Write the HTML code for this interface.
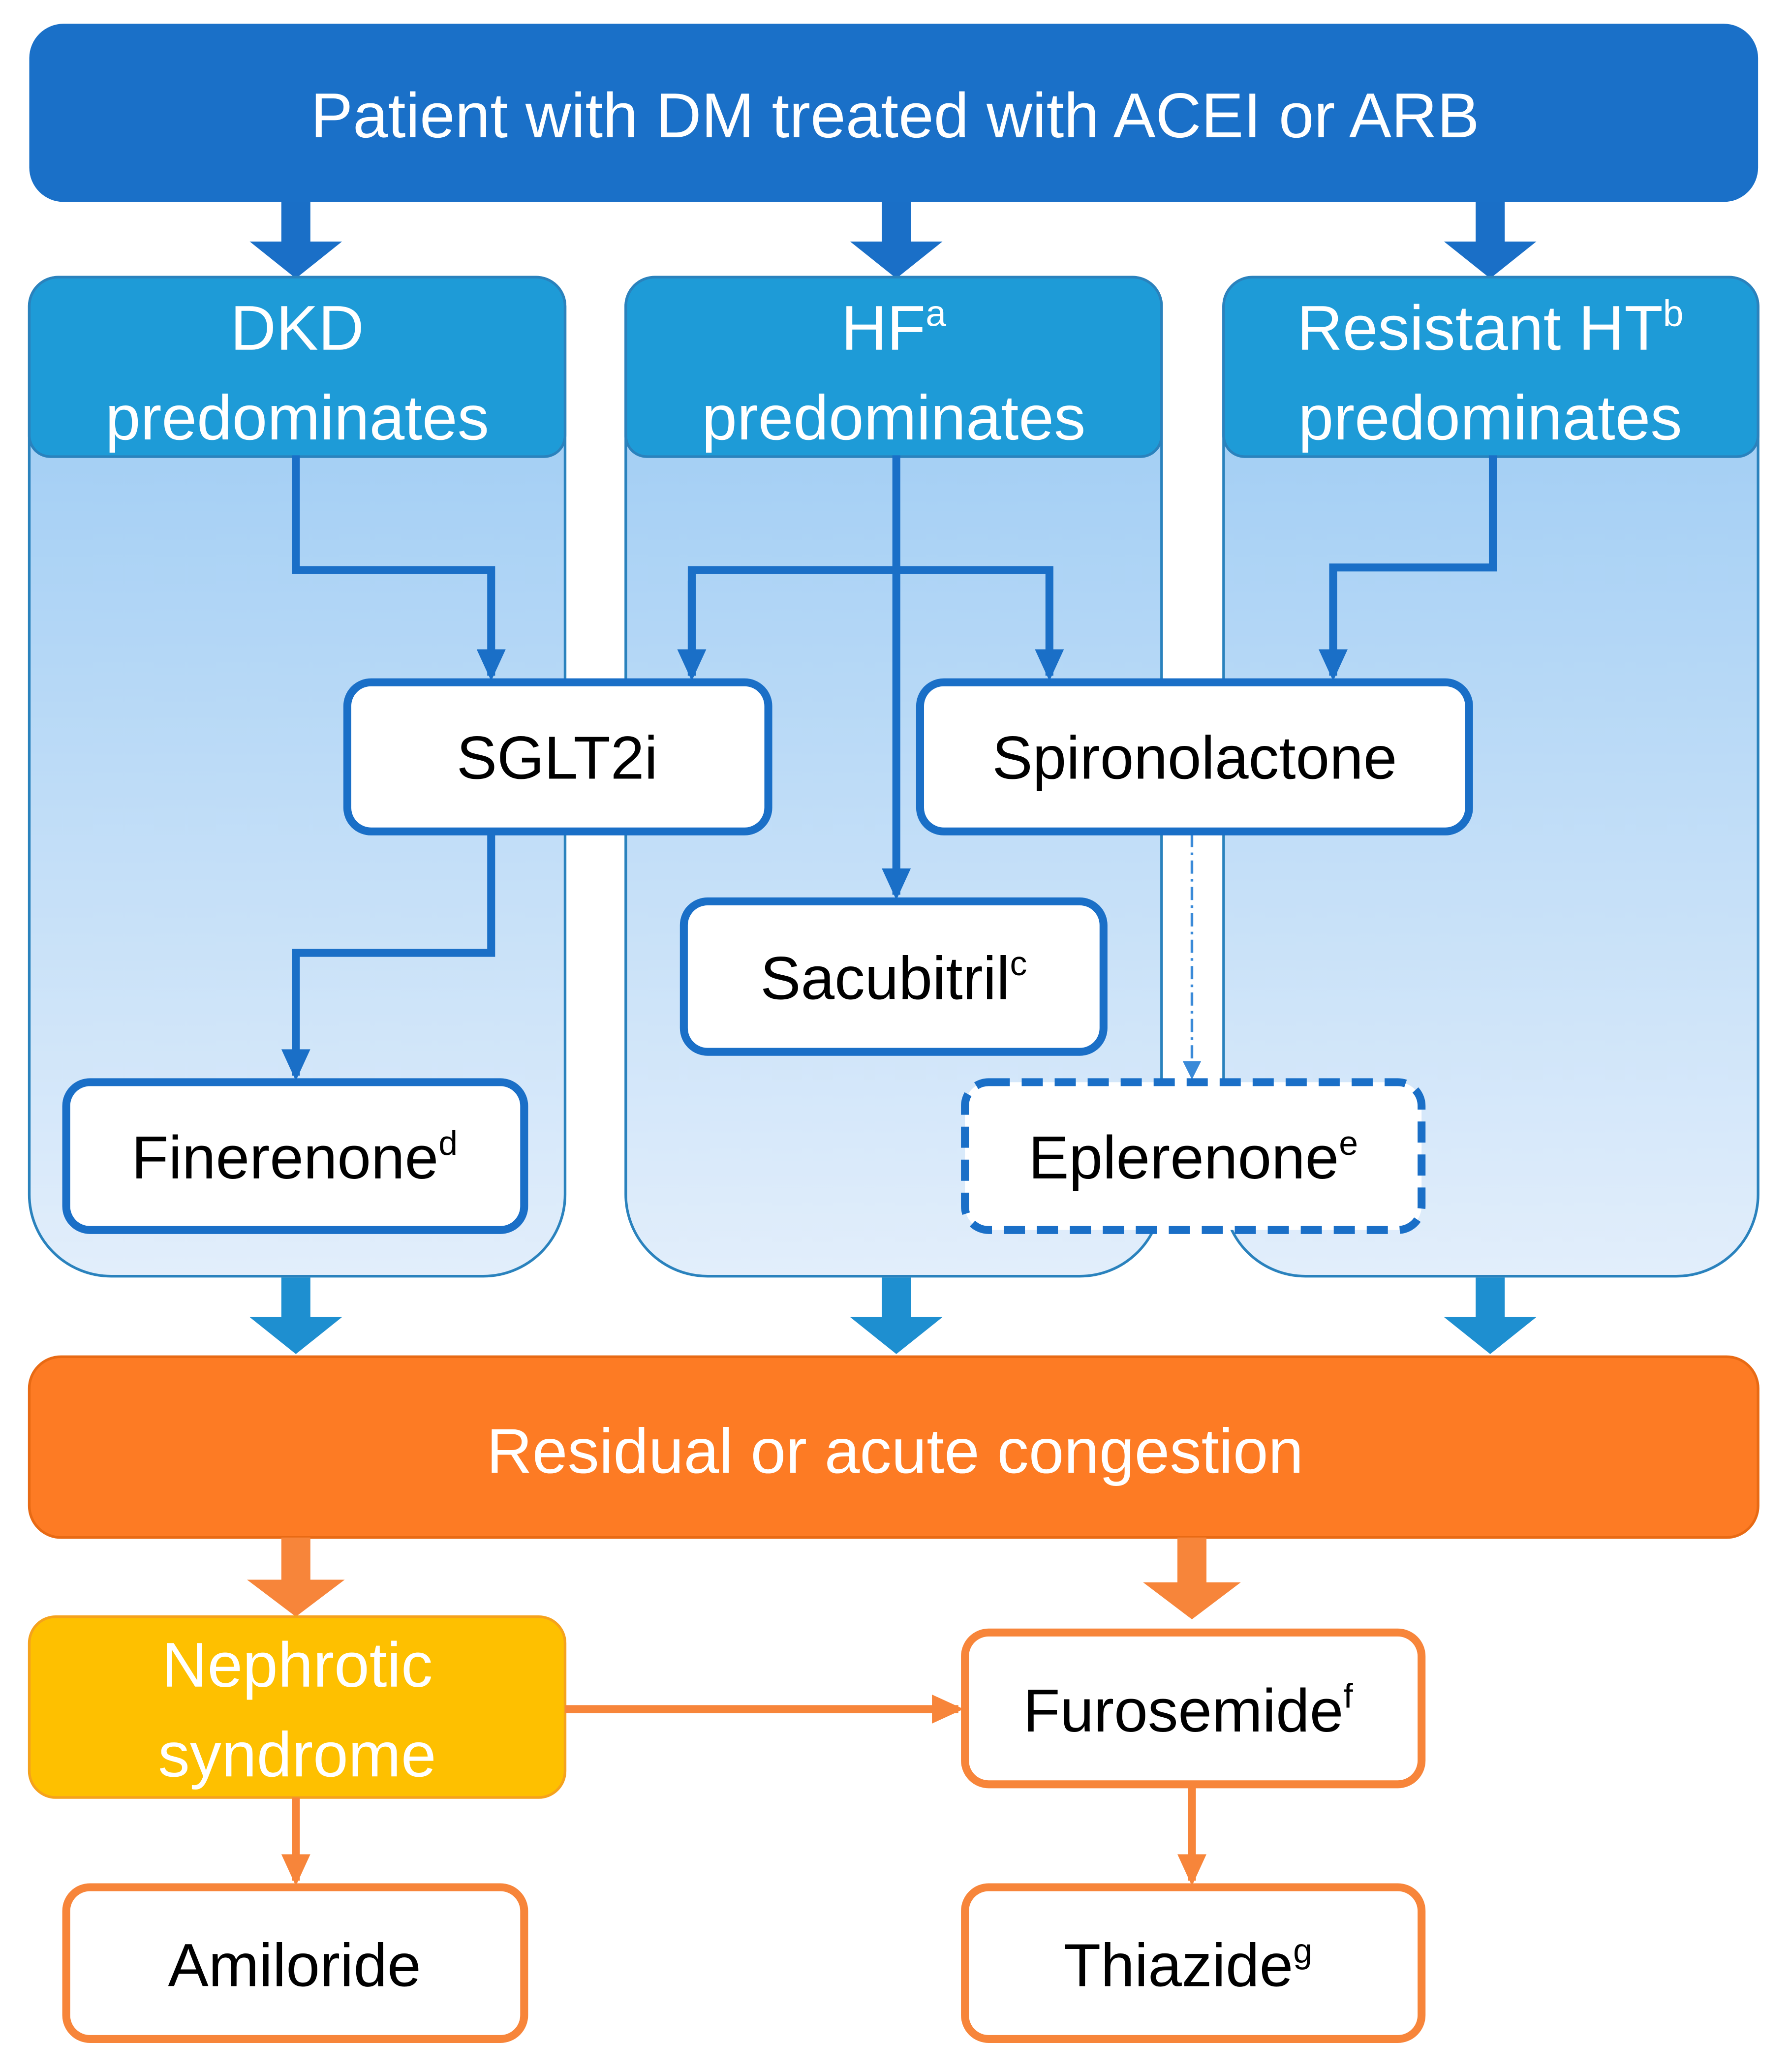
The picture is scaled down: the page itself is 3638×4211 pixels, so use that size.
<!DOCTYPE html>
<html><head><meta charset="utf-8"><style>
html,body{margin:0;padding:0;background:#fff;}
svg{display:block;}
text{font-family:"Liberation Sans","DejaVu Sans",sans-serif;}
</style></head><body>
<svg width="3638" height="4211" viewBox="0 0 1356 1570" xmlns="http://www.w3.org/2000/svg">
<defs>
<linearGradient id="g" x1="0" y1="0" x2="0" y2="1">
<stop offset="0" stop-color="#98c9f3"/><stop offset="1" stop-color="#e2eefb"/>
</linearGradient>
<marker id="ab" markerWidth="8" markerHeight="8" refX="6" refY="4" orient="auto" markerUnits="userSpaceOnUse" viewBox="0 0 8 8"><path d="M0,0 L8,4 L0,8 z" fill="#1a6fc7"/></marker>
<marker id="abig" markerWidth="24" markerHeight="22" refX="20" refY="11" orient="auto" markerUnits="userSpaceOnUse" viewBox="0 0 24 22"><path d="M0,0 L24,11 L0,22 z" fill="#1a6fc7"/></marker>
<marker id="ao" markerWidth="24" markerHeight="22" refX="20" refY="11" orient="auto" markerUnits="userSpaceOnUse" viewBox="0 0 24 22"><path d="M0,0 L24,11 L0,22 z" fill="#f7853a"/></marker>
<marker id="ad" markerWidth="14" markerHeight="14" refX="12" refY="7" orient="auto" markerUnits="userSpaceOnUse" viewBox="0 0 14 14"><path d="M0,0 L14,7 L0,14 z" fill="#3a8ad8"/></marker>
</defs>

<!-- top bar -->
<rect x="22" y="18" width="1310" height="135" rx="26" fill="#1a70c8"/>
<text x="678" y="104" font-size="48" fill="#fff" text-anchor="middle">Patient with DM treated with ACEI or ARB</text>

<!-- big down arrows -->
<g fill="#1a6fc7">
<path d="M213,153h22v30h24l-35,28l-35,-28h24z"/>
<path d="M668,153h22v30h24l-35,28l-35,-28h24z"/>
<path d="M1118,153h22v30h24l-35,28l-35,-28h24z"/>
</g>

<!-- columns -->
<g stroke="#2a82bd" stroke-width="2">
<path d="M22,232 a22,22 0 0 1 22,-22 h362 a22,22 0 0 1 22,22 V905 a62,62 0 0 1 -62,62 H84 a62,62 0 0 1 -62,-62 z" fill="url(#g)"/>
<path d="M474,232 a22,22 0 0 1 22,-22 h362 a22,22 0 0 1 22,22 V905 a62,62 0 0 1 -62,62 H536 a62,62 0 0 1 -62,-62 z" fill="url(#g)"/>
<path d="M927,232 a22,22 0 0 1 22,-22 h361 a22,22 0 0 1 22,22 V905 a62,62 0 0 1 -62,62 H989 a62,62 0 0 1 -62,-62 z" fill="url(#g)"/>
<path d="M22,232 a22,22 0 0 1 22,-22 h362 a22,22 0 0 1 22,22 V330 a16,16 0 0 1 -16,16 H38 a16,16 0 0 1 -16,-16 z" fill="#1e9bd7"/>
<path d="M474,232 a22,22 0 0 1 22,-22 h362 a22,22 0 0 1 22,22 V330 a16,16 0 0 1 -16,16 H490 a16,16 0 0 1 -16,-16 z" fill="#1e9bd7"/>
<path d="M927,232 a22,22 0 0 1 22,-22 h361 a22,22 0 0 1 22,22 V330 a16,16 0 0 1 -16,16 H943 a16,16 0 0 1 -16,-16 z" fill="#1e9bd7"/>
</g>
<g font-size="48" fill="#fff" text-anchor="middle">
<text x="225" y="265">DKD</text><text x="225" y="333">predominates</text>
<text x="677" y="265">HF<tspan font-size="28" dy="-18">a</tspan></text><text x="677" y="333">predominates</text>
<text x="1129" y="265">Resistant HT<tspan font-size="28" dy="-18">b</tspan></text><text x="1129" y="333">predominates</text>
</g>

<!-- connectors -->
<g fill="none" stroke="#1a6fc7" stroke-width="6">
<path d="M224,345 V432 H372 V512" marker-end="url(#abig)"/>
<path d="M679,345 V678" marker-end="url(#abig)"/>
<path d="M524,512 V432 H795 V512" marker-end="url(#abig)"/>
<path d="M524,440 V512" marker-end="url(#abig)"/>
<path d="M1131,345 V430 H1010 V512" marker-end="url(#abig)"/>
<path d="M372,630 V722 H224 V815" marker-end="url(#abig)"/>
</g>
<path d="M903,632 V816" stroke="#3a8ad8" stroke-width="2" stroke-dasharray="10,4,2,4" fill="none" marker-end="url(#ad)"/>

<!-- boxes -->
<g fill="#fff" stroke="#1a6fc7" stroke-width="6">
<rect x="263" y="517" width="319" height="113" rx="18"/>
<rect x="697" y="517" width="416" height="113" rx="18"/>
<rect x="518" y="683" width="318" height="114" rx="18"/>
<rect x="50" y="820" width="347" height="112" rx="18"/>
<rect x="731" y="820" width="346" height="112" rx="18" stroke-dasharray="16,9"/>
</g>
<g font-size="46" fill="#000" text-anchor="middle">
<text x="422" y="590">SGLT2i</text>
<text x="905" y="590">Spironolactone</text>
<text x="677" y="757">Sacubitril<tspan font-size="26" dy="-18">c</tspan></text>
<text x="223" y="893">Finerenone<tspan font-size="26" dy="-18">d</tspan></text>
<text x="904" y="893">Eplerenone<tspan font-size="26" dy="-18">e</tspan></text>
</g>

<!-- column-to-orange arrows -->
<g fill="#1e8fd0">
<path d="M213,968h22v30h24l-35,28l-35,-28h24z"/>
<path d="M668,968h22v30h24l-35,28l-35,-28h24z"/>
<path d="M1118,968h22v30h24l-35,28l-35,-28h24z"/>
</g>

<!-- orange bar -->
<rect x="22" y="1028" width="1310" height="137" rx="24" fill="#fd7b24" stroke="#e86a14" stroke-width="2"/>
<text x="678" y="1116" font-size="48" fill="#fff" text-anchor="middle">Residual or acute congestion</text>

<g fill="#f7853a">
<path d="M213,1165h22v32h26l-37,28l-37,-28h26z"/>
<path d="M892,1165h22v34h26l-37,28l-37,-28h26z"/>
</g>

<!-- nephrotic -->
<rect x="22" y="1225" width="406" height="137" rx="20" fill="#fec000" stroke="#f5a21c" stroke-width="2"/>
<text x="225" y="1278" font-size="48" fill="#fff" text-anchor="middle">Nephrotic</text>
<text x="225" y="1346" font-size="48" fill="#fff" text-anchor="middle">syndrome</text>

<g fill="none" stroke="#f7853a" stroke-width="6">
<path d="M428,1295 H726" marker-end="url(#ao)"/>
<path d="M224,1362 V1425" marker-end="url(#ao)"/>
<path d="M903,1352 V1425" marker-end="url(#ao)"/>
</g>

<g fill="#fff" stroke="#f7853a" stroke-width="6">
<rect x="731" y="1237" width="346" height="115" rx="18"/>
<rect x="50" y="1430" width="347" height="115" rx="18"/>
<rect x="731" y="1430" width="346" height="115" rx="18"/>
</g>
<g font-size="46" fill="#000" text-anchor="middle">
<text x="900" y="1312">Furosemide<tspan font-size="26" dy="-18">f</tspan></text>
<text x="223" y="1505">Amiloride</text>
<text x="900" y="1505">Thiazide<tspan font-size="26" dy="-18">g</tspan></text>
</g>
</svg>
</body></html>
